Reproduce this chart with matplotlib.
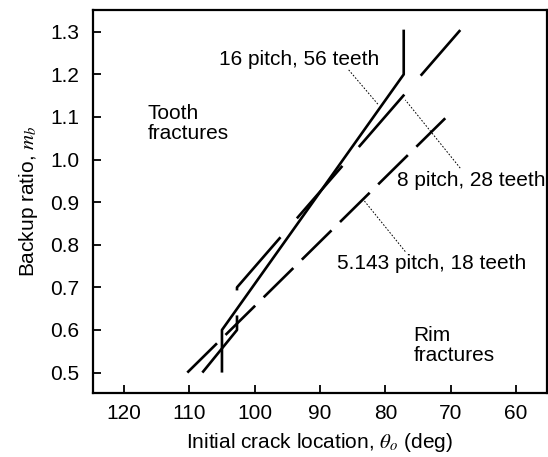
import matplotlib
matplotlib.use("Agg")
import matplotlib.pyplot as plt
import numpy as np

plt.rcParams['font.family'] = ['Liberation Sans', 'DejaVu Sans']
plt.rcParams['mathtext.fontset'] = 'stix'
plt.rcParams['lines.scale_dashes'] = False

# transition boundary lines, crack location (deg) vs backup ratio
pitch16_theta = [105.0, 105.0, 77.2, 77.2]
pitch16_mb = [0.50, 0.60, 1.20, 1.305]

pitch8_theta = [108.0, 102.7, 102.7, 68.55]
pitch8_mb = [0.50, 0.60, 0.70, 1.304]

pitch5_theta = [110.3, 70.85]
pitch5_mb = [0.50, 1.097]

x_ticks = [120, 110, 100, 90, 80, 70, 60]
y_ticks = [0.5, 0.6, 0.7, 0.8, 0.9, 1.0, 1.1, 1.2, 1.3]

fig = plt.figure(figsize=(5.48, 4.57), dpi=100)
ax = fig.add_axes([0.170, 0.140, 0.828, 0.838])

ax.plot(pitch16_theta, pitch16_mb, color='black', lw=1.9, solid_capstyle='butt')
ax.plot(pitch8_theta, pitch8_mb, color='black', lw=1.9, dash_capstyle='butt',
        linestyle=(0, (50, 18)))
ax.plot(pitch5_theta, pitch5_mb, color='black', lw=1.9, dash_capstyle='butt',
        linestyle=(0, (30, 8.6)))

# leader lines for the labels
ax.plot([85.62, 81.04], [1.2106, 1.128], color='black', lw=0.7, linestyle=(0, (1.2, 1.2)))
ax.plot([68.56, 76.96], [0.980, 1.140], color='black', lw=0.7, linestyle=(0, (1.2, 1.2)))
ax.plot([76.96, 83.33], [0.784, 0.905], color='black', lw=0.7, linestyle=(0, (1.2, 1.2)))

fs = 15
ax.text(105.5, 1.236, "16 pitch, 56 teeth", fontsize=fs, ha='left', va='center')
ax.text(78.2, 0.952, "8 pitch, 28 teeth", fontsize=fs, ha='left', va='center')
ax.text(87.4, 0.757, "5.143 pitch, 18 teeth", fontsize=fs, ha='left', va='center')
ax.text(116.4, 1.084, "Tooth\nfractures", fontsize=fs, ha='left', va='center', linespacing=1.05)
ax.text(75.74, 0.563, "Rim\nfractures", fontsize=fs, ha='left', va='center', linespacing=1.05)

ax.set_xlim(124.7, 55.3)
ax.set_ylim(0.452, 1.351)
ax.set_xticks(x_ticks)
ax.set_yticks(y_ticks)
ax.set_yticklabels([f"{v:.1f}" for v in y_ticks])
ax.tick_params(direction='in', length=6, width=1.3, labelsize=fs)
ax.tick_params(axis='x', pad=8)
ax.tick_params(axis='y', pad=10)
for s in ax.spines.values():
    s.set_linewidth(1.6)

ax.set_xlabel(r"Initial crack location, $\theta_o$ (deg)", fontsize=fs, labelpad=6)
ax.set_ylabel(r"Backup ratio, $m_b$", fontsize=fs, labelpad=7)

fig.savefig("out.png", dpi=100)
